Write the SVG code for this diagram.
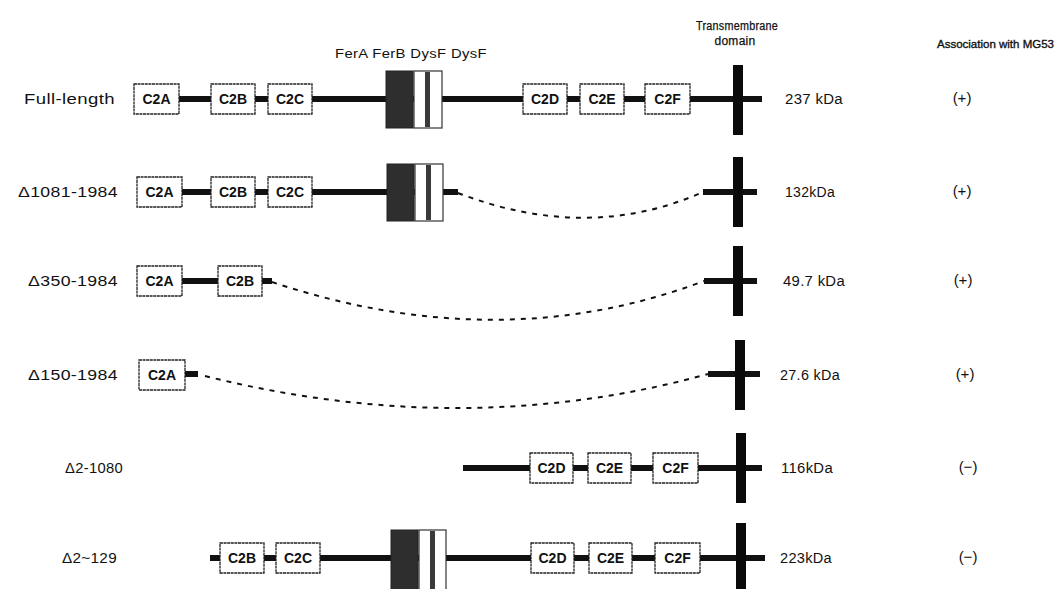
<svg xmlns="http://www.w3.org/2000/svg" width="1058" height="589" viewBox="0 0 1058 589">
<style>
text{font-family:"Liberation Sans",Arial,sans-serif;fill:#111}
.lbl{font-size:14px;letter-spacing:0.3px}
.hdr{font-size:12px;letter-spacing:0.3px}
.c2{fill:#fff;stroke:#222;stroke-width:1.3;stroke-dasharray:3 0.6}
.c2t{font-size:14px;font-weight:bold;text-anchor:middle}
.bb{stroke:#111;stroke-width:6;fill:none}
.fer{fill:#2e2e2e;stroke:#222;stroke-width:1}
.dys{fill:#fff;stroke:#333;stroke-width:1.2}
.dysm{fill:#3a3a3a}
.tm{fill:#0a0a0a}
.del{stroke:#111;stroke-width:2;stroke-dasharray:5 6;fill:none}
.sign{font-size:15px;text-anchor:middle}
</style>
<rect width="1058" height="589" fill="#fff"/>
<g id="headers">
<text class="hdr" x="335" y="58" font-size="12" textLength="152" lengthAdjust="spacingAndGlyphs">FerA FerB  DysF DysF</text>
<text class="hdr" x="737" y="30" text-anchor="middle" stroke="#111" stroke-width="0.25" font-size="12.5" textLength="82" lengthAdjust="spacingAndGlyphs">Transmembrane</text>
<text class="hdr" x="735" y="45" text-anchor="middle" stroke="#111" stroke-width="0.25" font-size="12.5">domain</text>
<text x="937" y="48" font-size="11.5" stroke="#111" stroke-width="0.35">Association with MG53</text>
</g>
<g id="connectors">
<path class="del" d="M458,193 Q588,243 703,192"/>
<path class="del" d="M272,282 Q500,358 704,281"/>
<path class="del" d="M205,376 Q465,441 708,374"/>
</g>
<g id="row-full-length">
<text class="lbl" x="24" y="104" textLength="91" lengthAdjust="spacingAndGlyphs">Full-length</text>
<line class="bb" x1="179" y1="99" x2="762" y2="99"/>
<rect class="c2" x="134" y="84" width="45" height="30"/><text class="c2t" x="156.5" y="104">C2A</text>
<rect class="c2" x="211" y="84" width="44" height="30"/><text class="c2t" x="233" y="104">C2B</text>
<rect class="c2" x="268" y="84" width="44" height="30"/><text class="c2t" x="290" y="104">C2C</text>
<rect class="fer" x="386" y="71" width="27" height="57"/>
<rect class="dys" x="414" y="71" width="28" height="57"/><rect class="dysm" x="425" y="72" width="5" height="55"/>
<rect class="c2" x="523" y="84" width="44" height="30"/><text class="c2t" x="545" y="104">C2D</text>
<rect class="c2" x="580" y="84" width="44" height="30"/><text class="c2t" x="602" y="104">C2E</text>
<rect class="c2" x="645" y="84" width="45" height="30"/><text class="c2t" x="667.5" y="104">C2F</text>
<rect class="tm" x="733" y="65" width="10" height="70"/>
<text class="lbl" x="785" y="104" textLength="58" lengthAdjust="spacingAndGlyphs">237 kDa</text>
<text class="sign" x="962" y="103">(+)</text>
</g>
<g id="row-d1081-1984">
<text class="lbl" x="18" y="197" textLength="100" lengthAdjust="spacingAndGlyphs">Δ1081-1984</text>
<line class="bb" x1="181" y1="192" x2="458" y2="192"/>
<line class="bb" x1="703" y1="192" x2="757" y2="192"/>
<rect class="c2" x="137" y="177" width="45" height="30"/><text class="c2t" x="159.5" y="197">C2A</text>
<rect class="c2" x="211" y="177" width="44" height="30"/><text class="c2t" x="233" y="197">C2B</text>
<rect class="c2" x="268" y="177" width="44" height="30"/><text class="c2t" x="290" y="197">C2C</text>
<rect class="fer" x="387" y="164" width="27" height="57"/>
<rect class="dys" x="415" y="164" width="28" height="57"/><rect class="dysm" x="426" y="165" width="5" height="55"/>
<rect class="tm" x="733" y="157" width="10" height="70"/>
<text class="lbl" x="785" y="197" textLength="50" lengthAdjust="spacingAndGlyphs">132kDa</text>
<text class="sign" x="962" y="196">(+)</text>
</g>
<g id="row-d350-1984">
<text class="lbl" x="28" y="286" textLength="90" lengthAdjust="spacingAndGlyphs">Δ350-1984</text>
<line class="bb" x1="182" y1="281" x2="272" y2="281"/>
<line class="bb" x1="704" y1="281" x2="757" y2="281"/>
<rect class="c2" x="137" y="266" width="45" height="30"/><text class="c2t" x="159.5" y="286">C2A</text>
<rect class="c2" x="218" y="266" width="44" height="30"/><text class="c2t" x="240" y="286">C2B</text>
<rect class="tm" x="733" y="246" width="10" height="70"/>
<text class="lbl" x="783" y="286" textLength="62" lengthAdjust="spacingAndGlyphs">49.7 kDa</text>
<text class="sign" x="963" y="285">(+)</text>
</g>
<g id="row-d150-1984">
<text class="lbl" x="28" y="380" textLength="90" lengthAdjust="spacingAndGlyphs">Δ150-1984</text>
<line class="bb" x1="185" y1="374" x2="198" y2="374"/>
<line class="bb" x1="708" y1="374" x2="760" y2="374"/>
<rect class="c2" x="139" y="360" width="46" height="30"/><text class="c2t" x="162" y="380">C2A</text>
<rect class="tm" x="735" y="340" width="10" height="70"/>
<text class="lbl" x="780" y="380" textLength="60" lengthAdjust="spacingAndGlyphs">27.6 kDa</text>
<text class="sign" x="965" y="379">(+)</text>
</g>
<g id="row-d2-1080">
<text class="lbl" x="65" y="473" textLength="58" lengthAdjust="spacingAndGlyphs">Δ2-1080</text>
<line class="bb" x1="463" y1="468" x2="762" y2="468"/>
<rect class="c2" x="530" y="453" width="43" height="30"/><text class="c2t" x="551.5" y="473">C2D</text>
<rect class="c2" x="588" y="453" width="43" height="30"/><text class="c2t" x="609.5" y="473">C2E</text>
<rect class="c2" x="653" y="453" width="45" height="30"/><text class="c2t" x="675.5" y="473">C2F</text>
<rect class="tm" x="736" y="433" width="10" height="70"/>
<text class="lbl" x="781" y="473" textLength="52" lengthAdjust="spacingAndGlyphs">116kDa</text>
<text class="sign" x="968" y="472">(−)</text>
</g>
<g id="row-d2-129">
<text class="lbl" x="62" y="563" textLength="55" lengthAdjust="spacingAndGlyphs">Δ2~129</text>
<line class="bb" x1="210" y1="558" x2="765" y2="558"/>
<rect class="c2" x="220" y="543" width="44" height="30"/><text class="c2t" x="242" y="563">C2B</text>
<rect class="c2" x="276" y="543" width="44" height="30"/><text class="c2t" x="298" y="563">C2C</text>
<rect class="fer" x="391" y="530" width="27" height="60"/>
<rect class="dys" x="419" y="530" width="27" height="60"/><rect class="dysm" x="430" y="531" width="5" height="58"/>
<rect class="c2" x="531" y="543" width="43" height="30"/><text class="c2t" x="552.5" y="563">C2D</text>
<rect class="c2" x="589" y="543" width="43" height="30"/><text class="c2t" x="610.5" y="563">C2E</text>
<rect class="c2" x="655" y="543" width="45" height="30"/><text class="c2t" x="677.5" y="563">C2F</text>
<rect class="tm" x="736" y="523" width="10" height="70"/>
<text class="lbl" x="780" y="563" textLength="52" lengthAdjust="spacingAndGlyphs">223kDa</text>
<text class="sign" x="968" y="562">(−)</text>
</g>
</svg>
